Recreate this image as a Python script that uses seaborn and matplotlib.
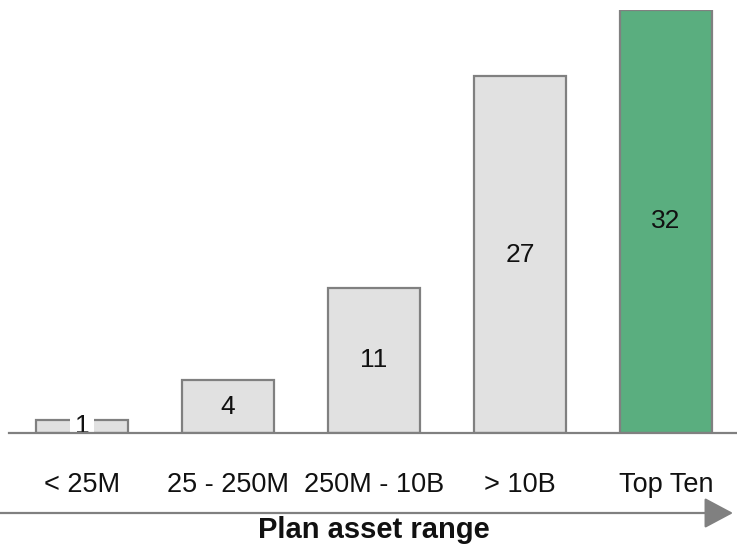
import matplotlib
matplotlib.use("Agg")
import matplotlib.pyplot as plt
import seaborn as sns

categories = ["< 25M", "25 - 250M", "250M - 10B", "> 10B", "Top Ten"]
values = [1, 4, 11, 27, 32]
bar_colors = ["#e1e1e1", "#e1e1e1", "#e1e1e1", "#e1e1e1", "#5aae7f"]
x_title = "Plan asset range"

sns.set_theme(style="white")
plt.rcParams['font.family'] = ['Liberation Sans', 'DejaVu Sans']

W, H = 737, 545
fig = plt.figure(figsize=(W / 100, H / 100), dpi=100)
ax = fig.add_axes([9 / W, 1 - 433 / H, 730 / W, 423 / H])

sns.barplot(x=categories, y=values, hue=categories, palette=bar_colors,
            legend=False, width=0.63, edgecolor="#808080", linewidth=1.6,
            saturation=1, ax=ax, zorder=1)

ax.set_xlim(-0.5, 4.5)
ax.set_ylim(0, 32)
ax.set_yticks([])
ax.set_xlabel("")
ax.set_ylabel("")
for s in ["top", "left", "right"]:
    ax.spines[s].set_visible(False)
ax.spines["bottom"].set_color("#808080")
ax.spines["bottom"].set_linewidth(1.6)
ax.spines["bottom"].set_zorder(3)
ax.tick_params(axis="x", length=0, pad=28, labelsize=19.5, colors="#111111")

for i, v in enumerate(values):
    kw = {}
    if i == 0:
        kw["bbox"] = dict(facecolor="white", edgecolor="none", pad=3)
    ax.text(i, v / 2, str(v), ha="center", va="center", fontsize=19,
            color="#111111", zorder=2, **kw)

ax.annotate("", xy=(733 / W, 1 - 513 / H), xytext=(0, 1 - 513 / H),
            xycoords="figure fraction", textcoords="figure fraction",
            arrowprops=dict(arrowstyle="-|>,head_length=0.6,head_width=0.32",
                            mutation_scale=30, color="#808080", lw=1.6,
                            shrinkA=0, shrinkB=0))
fig.text(374 / W, 1 - 530 / H, x_title, ha="center", va="center",
         fontsize=21, fontweight="bold", color="#111111")

fig.savefig("out.png", dpi=100)
